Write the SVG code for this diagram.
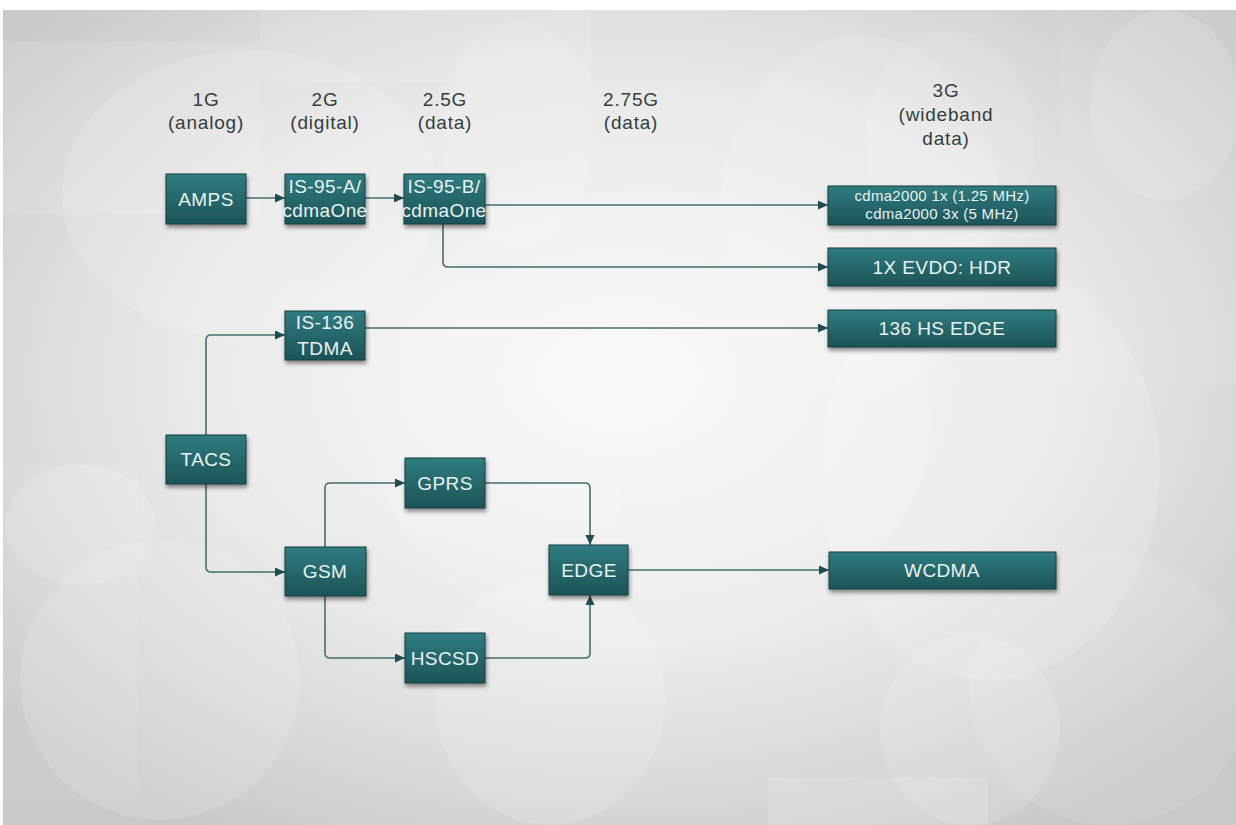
<svg xmlns="http://www.w3.org/2000/svg" width="1236" height="825" viewBox="0 0 1236 825">
<defs>
<radialGradient id="bg" cx="0.5" cy="0.45" r="0.65">
<stop offset="0" stop-color="#f9f9f9"/>
<stop offset="0.55" stop-color="#e9e9e9"/>
<stop offset="1" stop-color="#c9c9c9"/>
</radialGradient>
<linearGradient id="nodeFill" x1="0" y1="0" x2="0" y2="1">
<stop offset="0" stop-color="#2f7c80"/>
<stop offset="1" stop-color="#1c5357"/>
</linearGradient>
<filter id="shadow" x="-20%" y="-20%" width="140%" height="160%">
<feDropShadow dx="1" dy="3" stdDeviation="2" flood-color="#000" flood-opacity="0.45"/>
</filter>
<marker id="arrow" markerUnits="userSpaceOnUse" markerWidth="11" markerHeight="10" refX="10" refY="4.5" orient="auto">
<path d="M0,0 L10,4.5 L0,9 z" fill="#1f4c4f"/>
</marker>
</defs>
<style>
.node rect { fill: url(#nodeFill); stroke: #173f42; stroke-width: 1; filter: url(#shadow); }
.node text { fill: #e9f2f2; font-family: "Liberation Sans", Arial, sans-serif; font-size: 19px; letter-spacing: 0.4px; text-anchor: middle; }
.node text.small { font-size: 15px; letter-spacing: 0.3px; }
.hdr { fill: #343e3e; font-family: "Liberation Sans", Arial, sans-serif; font-size: 19px; letter-spacing: 0.8px; text-anchor: middle; }
.conn path { fill: none; stroke: #456e6f; stroke-width: 1.6; marker-end: url(#arrow); }
.deco { fill: #ffffff; }
</style>

<!-- background -->
<rect x="0" y="0" width="1236" height="825" fill="#ffffff"/>
<rect x="3" y="10" width="1233" height="815" fill="url(#bg)"/>
<g id="background-shapes">
<rect class="deco" x="3" y="42" width="257" height="172" opacity="0.12"/>
<rect class="deco" x="260" y="10" width="330" height="72" opacity="0.12"/>
<rect class="deco" x="215" y="282" width="405" height="250" opacity="0.08"/>
<rect class="deco" x="3" y="465" width="135" height="335" opacity="0.07"/>
<rect class="deco" x="768" y="778" width="220" height="47" opacity="0.14"/>
<rect class="deco" x="1060" y="10" width="176" height="375" opacity="0.06"/>
<ellipse class="deco" cx="250" cy="195" rx="188" ry="145" opacity="0.15"/>
<ellipse class="deco" cx="518" cy="135" rx="75" ry="115" opacity="0.13"/>
<ellipse class="deco" cx="860" cy="215" rx="140" ry="180" opacity="0.13"/>
<ellipse class="deco" cx="950" cy="140" rx="85" ry="110" opacity="0.1"/>
<ellipse class="deco" cx="1165" cy="105" rx="75" ry="95" opacity="0.14"/>
<ellipse class="deco" cx="990" cy="470" rx="170" ry="210" opacity="0.15"/>
<ellipse class="deco" cx="80" cy="525" rx="75" ry="60" opacity="0.15"/>
<ellipse class="deco" cx="160" cy="680" rx="140" ry="140" opacity="0.14"/>
<ellipse class="deco" cx="550" cy="700" rx="115" ry="125" opacity="0.15"/>
<ellipse class="deco" cx="970" cy="730" rx="90" ry="95" opacity="0.14"/>
<ellipse class="deco" cx="1110" cy="690" rx="140" ry="135" opacity="0.1"/>
<ellipse class="deco" cx="650" cy="420" rx="280" ry="230" opacity="0.12"/>
</g>

<!-- column headers -->
<g id="headers">
<text class="hdr" x="206" y="106">1G</text>
<text class="hdr" x="206" y="129">(analog)</text>
<text class="hdr" x="325" y="106">2G</text>
<text class="hdr" x="325" y="129">(digital)</text>
<text class="hdr" x="445" y="106">2.5G</text>
<text class="hdr" x="445" y="129">(data)</text>
<text class="hdr" x="631" y="106">2.75G</text>
<text class="hdr" x="631" y="129">(data)</text>
<text class="hdr" x="946" y="97">3G</text>
<text class="hdr" x="946" y="121">(wideband</text>
<text class="hdr" x="946" y="145">data)</text>
</g>

<!-- connectors -->
<g id="connectors" class="conn">
<path d="M246,198 H285"/>
<path d="M365,198 H404"/>
<path d="M485,205 H828"/>
<path d="M443,224 V262 Q443,267 448,267 H828"/>
<path d="M206,435 V340 Q206,335 211,335 H285"/>
<path d="M365,328 H828"/>
<path d="M206,484 V567 Q206,572 211,572 H285"/>
<path d="M325,547 V488 Q325,483 330,483 H405"/>
<path d="M485,483 H585 Q590,483 590,488 V545"/>
<path d="M325,596 V653 Q325,658 330,658 H405"/>
<path d="M485,658 H585 Q590,658 590,653 V595"/>
<path d="M628,570 H829"/>
</g>

<!-- nodes -->
<g id="node-amps" class="node">
<rect x="166" y="174" width="80" height="50"/>
<text x="206" y="206">AMPS</text>
</g>
<g id="node-is95a" class="node">
<rect x="285" y="174" width="80" height="50"/>
<text x="325" y="193">IS-95-A/</text>
<text x="325" y="217">cdmaOne</text>
</g>
<g id="node-is95b" class="node">
<rect x="404" y="174" width="81" height="50"/>
<text x="444" y="193">IS-95-B/</text>
<text x="444" y="217">cdmaOne</text>
</g>
<g id="node-cdma2000" class="node">
<rect x="828" y="186" width="228" height="39"/>
<text class="small" x="942" y="201">cdma2000 1x (1.25 MHz)</text>
<text class="small" x="942" y="219">cdma2000 3x (5 MHz)</text>
</g>
<g id="node-evdo" class="node">
<rect x="828" y="248" width="228" height="38"/>
<text x="942" y="274">1X EVDO: HDR</text>
</g>
<g id="node-is136" class="node">
<rect x="285" y="311" width="80" height="49"/>
<text x="325" y="329">IS-136</text>
<text x="325" y="355">TDMA</text>
</g>
<g id="node-136hsedge" class="node">
<rect x="828" y="310" width="228" height="37"/>
<text x="942" y="335">136 HS EDGE</text>
</g>
<g id="node-tacs" class="node">
<rect x="166" y="435" width="80" height="49"/>
<text x="206" y="466">TACS</text>
</g>
<g id="node-gprs" class="node">
<rect x="405" y="458" width="80" height="50"/>
<text x="445" y="490">GPRS</text>
</g>
<g id="node-gsm" class="node">
<rect x="285" y="547" width="81" height="49"/>
<text x="325" y="578">GSM</text>
</g>
<g id="node-edge" class="node">
<rect x="549" y="545" width="79" height="50"/>
<text x="589" y="577">EDGE</text>
</g>
<g id="node-hscsd" class="node">
<rect x="405" y="633" width="80" height="50"/>
<text x="445" y="665">HSCSD</text>
</g>
<g id="node-wcdma" class="node">
<rect x="829" y="552" width="227" height="37"/>
<text x="942" y="577">WCDMA</text>
</g>
</svg>
